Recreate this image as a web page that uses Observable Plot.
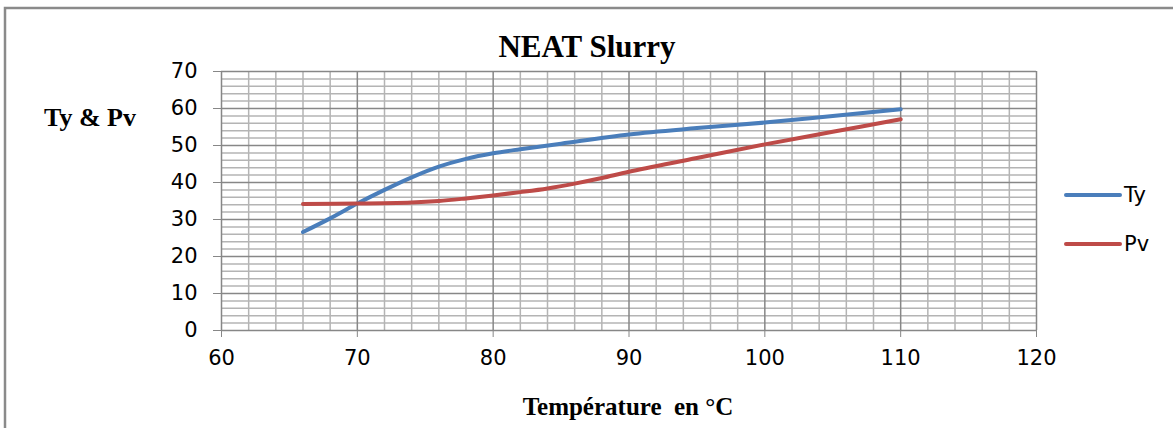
<!DOCTYPE html>
<html>
<head>
<meta charset="utf-8">
<script src="https://cdn.jsdelivr.net/npm/d3@7"></script>
<script src="https://cdn.jsdelivr.net/npm/@observablehq/plot@0.6"></script>
<style>
  html, body { margin: 0; padding: 0; background: #fff; }
  svg { display: block; }
</style>
</head>
<body>
<div id="chart"></div>
<script>
// ---- Data ----
const tyTemps = [66, 68, 70, 72, 74, 76, 78, 80, 82, 85, 90, 95, 100, 105, 110];
const tyValues = [26.6, 30.3, 34.3, 38.0, 41.4, 44.3, 46.4, 47.9, 49.0, 50.5, 53.0, 54.7, 56.2, 58.0, 59.8];
const pvTemps = [66, 70, 74, 76, 78, 80, 82, 84, 86, 88, 90, 95, 100, 105, 110];
const pvValues = [34.2, 34.3, 34.6, 35.0, 35.7, 36.5, 37.4, 38.4, 39.7, 41.2, 42.9, 46.6, 50.3, 53.7, 57.1];

const seriesNames = ["Ty", "Pv"];
const seriesColors = ["#4A7EBB", "#BE4B48"];

const xTicks = [60, 70, 80, 90, 100, 110, 120];
const yTicks = [0, 10, 20, 30, 40, 50, 60, 70];
const xMinor = [62, 64, 66, 68, 72, 74, 76, 78, 82, 84, 86, 88, 92, 94, 96, 98, 102, 104, 106, 108, 112, 114, 116, 118];
const yMinor = [2, 4, 6, 8, 12, 14, 16, 18, 22, 24, 26, 28, 32, 34, 36, 38, 42, 44, 46, 48, 52, 54, 56, 58, 62, 64, 66, 68];

const titleText = "NEAT Slurry";
const xLabel = "Température  en °C";
const yLabel = "Ty & Pv";

// ---- Build table ----
const rows = [
  ...tyTemps.map((t, i) => ({series: seriesNames[0], temp: t, value: tyValues[i]})),
  ...pvTemps.map((t, i) => ({series: seriesNames[1], temp: t, value: pvValues[i]}))
];

const W = 1173, H = 428;
const minorColor = "#b4b4b4";
const majorColor = "#878787";

const chart = Plot.plot({
  width: W,
  height: H,
  marginLeft: 221,
  marginRight: 137,
  marginTop: 71,
  marginBottom: 98,
  style: "font-family: 'DejaVu Sans'; font-size: 21px; color: #000; background: #fff;",
  x: {domain: [60, 120]},
  y: {domain: [0, 70]},
  color: {domain: seriesNames, range: seriesColors},
  marks: [
    Plot.ruleX(xMinor, {stroke: minorColor, strokeWidth: 1.5}),
    Plot.ruleY(yMinor, {stroke: minorColor, strokeWidth: 1.5}),
    Plot.ruleX(xTicks, {stroke: majorColor, strokeWidth: 1.5}),
    Plot.ruleY(yTicks, {stroke: majorColor, strokeWidth: 1.5}),
    Plot.axisX({ticks: xTicks, tickSize: 7, tickPadding: 13, stroke: majorColor, label: null, tickFormat: d3.format("d"), fill: "#000", fontSize: 21}),
    Plot.axisY({ticks: yTicks, tickSize: 8, tickPadding: 16, stroke: majorColor, label: null, tickFormat: d3.format("d"), fill: "#000", fontSize: 21}),
    Plot.line(rows, {
      x: "temp", y: "value", z: "series", stroke: "series",
      strokeWidth: 4, curve: "catmull-rom", strokeLinecap: "round"
    })
  ]
});

const svg = d3.select(chart);

// Axis tick label size
svg.selectAll("text")
  .attr("font-size", 21)
  .attr("font-family", "DejaVu Sans")
  .style("font-size", "21px")
  .style("font-family", "'DejaVu Sans'");

// Outer chart border
svg.append("path")
  .attr("d", `M5,${H} L5,8 L${W},8`)
  .attr("fill", "none")
  .attr("stroke", "#8a8a8a")
  .attr("stroke-width", 2.5);

// Title
svg.append("text")
  .attr("x", 587).attr("y", 57)
  .attr("text-anchor", "middle")
  .attr("font-family", "Liberation Serif")
  .attr("font-weight", "bold")
  .attr("font-size", 31)
  .attr("fill", "#000")
  .text(titleText);

// Y label
svg.append("text")
  .attr("x", 90).attr("y", 126)
  .attr("text-anchor", "middle")
  .attr("font-family", "Liberation Serif")
  .attr("font-weight", "bold")
  .attr("font-size", 26)
  .attr("fill", "#000")
  .text(yLabel);

// X label
svg.append("text")
  .attr("x", 628).attr("y", 415)
  .attr("text-anchor", "middle")
  .attr("font-family", "Liberation Serif")
  .attr("font-weight", "bold")
  .attr("font-size", 25)
  .attr("fill", "#000")
  .attr("xml:space", "preserve")
  .style("white-space", "pre")
  .text(xLabel);

// Legend
const legendY = [195, 244];
seriesNames.forEach((name, i) => {
  svg.append("line")
    .attr("x1", 1066).attr("x2", 1120)
    .attr("y1", legendY[i]).attr("y2", legendY[i])
    .attr("stroke", seriesColors[i])
    .attr("stroke-width", 4)
    .attr("stroke-linecap", "round");
  svg.append("text")
    .attr("x", 1124).attr("y", legendY[i])
    .attr("dy", "0.35em")
    .attr("text-anchor", "start")
    .attr("font-family", "DejaVu Sans")
    .attr("font-size", 21)
    .attr("fill", "#000")
    .text(name);
});

document.getElementById("chart").appendChild(chart);
</script>
</body>
</html>
